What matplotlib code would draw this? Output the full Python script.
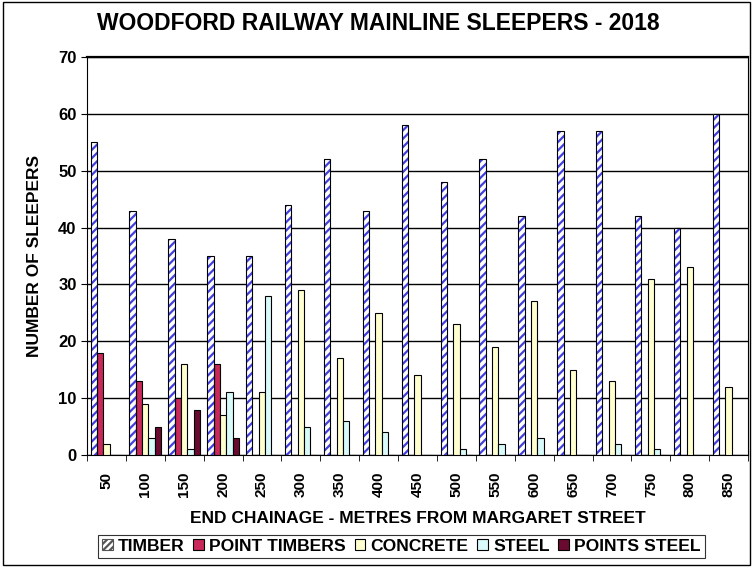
import numpy as np
import matplotlib.pyplot as plt
from matplotlib.patches import Patch, Rectangle

plt.rcParams['font.family'] = ['Liberation Sans', 'DejaVu Sans']
plt.rcParams['font.weight'] = 'bold'
plt.rcParams['hatch.linewidth'] = 1.6

chainage = ['50', '100', '150', '200', '250', '300', '350', '400', '450',
            '500', '550', '600', '650', '700', '750', '800', '850']
timber = [55, 43, 38, 35, 35, 44, 52, 43, 58, 48, 52, 42, 57, 57, 42, 40, 60]
point_timbers = [18, 13, 10, 16, 0, 0, 0, 0, 0, 0, 0, 0, 0, 0, 0, 0, 0]
concrete = [2, 9, 16, 7, 11, 29, 17, 25, 14, 23, 19, 27, 15, 13, 31, 33, 12]
steel = [0, 3, 1, 11, 28, 5, 6, 4, 0, 1, 2, 3, 0, 2, 1, 0, 0]
points_steel = [0, 5, 8, 3, 0, 0, 0, 0, 0, 0, 0, 0, 0, 0, 0, 0, 0]

fig = plt.figure(figsize=(7.53, 5.67), dpi=100)
ax = fig.add_axes([0.1155, 0.1975, 0.878, 0.702])
fig.patches.append(Rectangle((0.004, 0.004), 0.992, 0.992, transform=fig.transFigure,
                             fill=False, edgecolor='black', linewidth=1))

x = np.arange(len(chainage))
w = 0.163
offs = (np.arange(5) - 2) * w

# timber: blue hatch, black outline drawn on top
ax.bar(x + offs[0], timber, w, color='white', edgecolor='#4040e0', hatch='////',
       linewidth=0, zorder=3)
ax.bar(x + offs[0], timber, w, fill=False, edgecolor='black', linewidth=0.8, zorder=4)
ax.bar(x + offs[1], point_timbers, w, color='#c8285a', edgecolor='black', linewidth=0.8, zorder=3)
ax.bar(x + offs[2], concrete, w, color='#ffffd0', edgecolor='black', linewidth=0.8, zorder=3)
ax.bar(x + offs[3], steel, w, color='#d8fafa', edgecolor='black', linewidth=0.8, zorder=3)
ax.bar(x + offs[4], points_steel, w, color='#6a0a30', edgecolor='black', linewidth=0.8, zorder=3)

ax.set_xlim(-0.5, len(chainage) - 0.5)
ax.set_ylim(0, 70)
ax.set_yticks(range(0, 71, 10))
ax.yaxis.grid(True, color='black', linewidth=1)
ax.set_axisbelow(True)
ax.set_xticks(x)
ax.set_xticklabels(chainage, rotation=90, fontsize=11, fontweight='bold')
ax.set_xticks(np.arange(-0.5, len(chainage)), minor=True)
ax.tick_params(axis='x', which='major', length=0, pad=12)
ax.tick_params(axis='x', which='minor', length=4)
ax.tick_params(axis='y', labelsize=12, length=4)
for lbl in ax.get_yticklabels():
    lbl.set_fontweight('bold')
ax.spines['top'].set_linewidth(1.6)

ax.set_ylabel('NUMBER OF SLEEPERS', fontsize=12.5, fontweight='bold', labelpad=12)
ax.set_xlabel('END CHAINAGE - METRES FROM MARGARET STREET', fontsize=12.5,
              fontweight='bold', labelpad=10)
fig.text(0.502, 0.958, 'WOODFORD RAILWAY MAINLINE SLEEPERS - 2018', ha='center',
         va='center', fontsize=16.5, fontweight='bold')

handles = [
    Patch(facecolor='white', edgecolor='#555555', hatch='/////', linewidth=0.8),
    Patch(facecolor='#c8285a', edgecolor='black', linewidth=0.8),
    Patch(facecolor='#ffffd0', edgecolor='black', linewidth=0.8),
    Patch(facecolor='#d8fafa', edgecolor='black', linewidth=0.8),
    Patch(facecolor='#6a0a30', edgecolor='black', linewidth=0.8),
]
labels = ['TIMBER', 'POINT TIMBERS', 'CONCRETE', 'STEEL', 'POINTS STEEL']
leg = fig.legend(handles, labels, loc='center', bbox_to_anchor=(0.533, 0.036), ncol=5,
                 fontsize=12.6, frameon=True, fancybox=False, edgecolor='black',
                 handlelength=0.6, handleheight=0.6, handletextpad=0.3,
                 columnspacing=0.5, borderpad=0.25, borderaxespad=0)
leg.get_frame().set_linewidth(0.8)

fig.savefig('out.png', dpi=100)
